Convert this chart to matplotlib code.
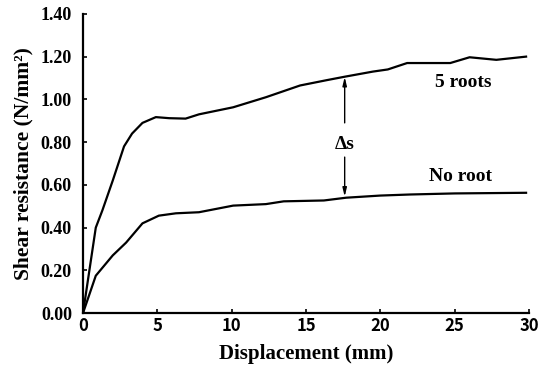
import numpy as np
import matplotlib
matplotlib.use("Agg")
import matplotlib.pyplot as plt

# -------------------------
# Data
# -------------------------

disp_roots = [0, 0.86, 1.3, 2.0, 2.76, 3.3, 4.0, 4.9, 5.8, 6.9, 7.8, 10.1, 12.3,
              14.6, 16.4, 17.6, 19.5, 20.5, 21.8, 24.7, 26.0, 27.8, 29.8]
shear_roots = [0, 0.40, 0.48, 0.62, 0.78, 0.84, 0.89, 0.917, 0.912, 0.91, 0.93,
               0.963, 1.01, 1.065, 1.09, 1.106, 1.13, 1.14, 1.17, 1.17, 1.197,
               1.185, 1.20]

disp_none = [0, 0.86, 2.0, 2.9, 4.0, 5.1, 6.25, 7.8, 10.1, 12.3, 13.5, 16.2,
             17.7, 20.0, 22.0, 25.0, 29.8]
shear_none = [0, 0.175, 0.27, 0.33, 0.42, 0.456, 0.467, 0.472, 0.503, 0.51,
              0.523, 0.527, 0.54, 0.55, 0.555, 0.56, 0.563]

x_ticks = [0, 5, 10, 15, 20, 25, 30]
y_ticks = [0.0, 0.2, 0.4, 0.6, 0.8, 1.0, 1.2, 1.4]

arrow_x = 17.6
arrow_top = 1.105
arrow_bottom = 0.545

# -------------------------
# Plot
# -------------------------

serif = "Liberation Serif"

fig = plt.figure(figsize=(5.5, 3.75), dpi=100)
ax = fig.add_axes([0.1509, 0.165, 0.811, 0.798])

ax.plot(disp_roots, shear_roots, color="black", lw=1.6)
ax.plot(disp_none, shear_none, color="black", lw=1.6)

ax.set_xlim(0, 30)
ax.set_ylim(0, 1.4)
ax.spines["top"].set_visible(False)
ax.spines["right"].set_visible(False)
ax.spines["left"].set_linewidth(1.6)
ax.spines["bottom"].set_linewidth(1.6)

ax.set_xticks(x_ticks)
ax.set_yticks(y_ticks)
ax.set_yticklabels(["%.2f" % v for v in y_ticks], fontfamily=serif,
                   fontweight="bold", fontsize=13)
ax.set_xticklabels([str(v) for v in x_ticks], fontfamily="Noto Sans CJK JP",
                   fontweight="bold", fontsize=12)
ax.tick_params(direction="in", length=3, width=1.2)
ax.tick_params(axis="y", pad=8)
ax.tick_params(axis="x", pad=3)

ax.set_xlabel("Displacement (mm)", fontfamily=serif, fontweight="bold",
              fontsize=15, labelpad=6)
ax.set_ylabel("Shear resistance (N/mm²)", fontfamily=serif,
              fontweight="bold", fontsize=15.5)
ax.yaxis.set_label_coords(-0.112, 0.5)

# delta-s arrows
mid = 0.79
head = dict(arrowstyle="-|>,head_length=0.5,head_width=0.12", color="black",
            lw=1.0, shrinkA=0, shrinkB=0)
ax.annotate("", xy=(arrow_x, arrow_top), xytext=(arrow_x, mid + 0.1),
            arrowprops=head)
ax.annotate("", xy=(arrow_x, arrow_bottom), xytext=(arrow_x, mid - 0.06),
            arrowprops=head)
ax.text(arrow_x, mid, "Δs", ha="center", va="center", fontfamily=serif,
        fontweight="bold", fontsize=14)

ax.text(25.6, 1.08, "5 roots", ha="center", va="center", fontfamily=serif,
        fontweight="bold", fontsize=14)
ax.text(25.4, 0.64, "No root", ha="center", va="center", fontfamily=serif,
        fontweight="bold", fontsize=14)

fig.savefig("out.png", dpi=100)
